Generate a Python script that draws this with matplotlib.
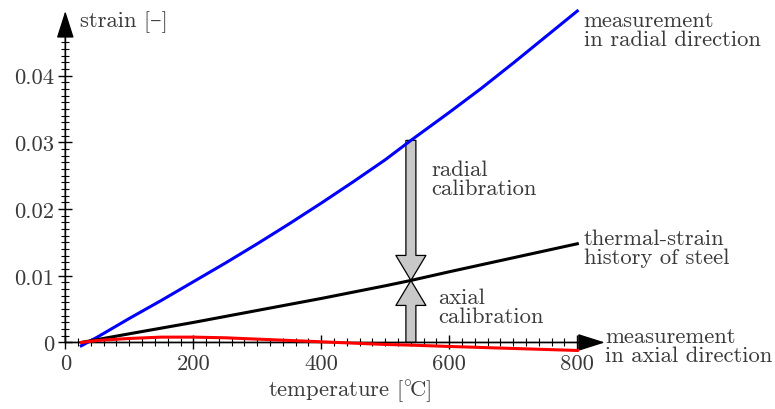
import matplotlib
matplotlib.use("Agg")
import matplotlib.pyplot as plt
import numpy as np
from matplotlib.patches import FancyArrowPatch
from matplotlib.ticker import FixedLocator, FuncFormatter

plt.rcParams["font.family"] = ["cmr10", "DejaVu Serif"]
plt.rcParams["mathtext.fontset"] = "cm"
plt.rcParams["axes.formatter.use_mathtext"] = True
plt.rcParams["axes.unicode_minus"] = False

TEXT_COLOR = "#3a3a3a"
FS = 16.3

# temperature [degC] and measured strains
temp_radial = [25, 50, 100, 150, 200, 250, 300, 350, 400, 450, 500, 540, 600, 650, 700, 750, 800]
strain_radial = [-0.0005, 0.0008, 0.0036, 0.0063, 0.0091, 0.0119, 0.0148, 0.0178, 0.0209,
                 0.0241, 0.0274, 0.0303, 0.0345, 0.0381, 0.0419, 0.0458, 0.0497]

temp_thermal = [25, 100, 200, 300, 400, 500, 540, 600, 700, 800]
strain_thermal = [0.0, 0.0013, 0.0030, 0.0048, 0.0066, 0.0085, 0.0093, 0.0106, 0.0127, 0.0148]

temp_axial = [25, 50, 100, 150, 200, 250, 300, 400, 500, 540, 600, 700, 800]
strain_axial = [0.0, 0.0003, 0.0006, 0.0008, 0.0008, 0.0007, 0.0005, 0.0001, -0.0003,
                -0.0004, -0.0006, -0.0009, -0.0012]

calib_temp = 540
x_ticks = [0, 200, 400, 600, 800]
y_ticks = [0, 0.01, 0.02, 0.03, 0.04]

x_min, x_max = -5, 845
y_min, y_max = -0.002, 0.0497

fig = plt.figure(figsize=(7.75, 4.10), dpi=100)
ax = fig.add_axes([62.1 / 775, (410 - 356.8) / 410, 544 / 775, 344.8 / 410])
ax.set_xlim(x_min, x_max)
ax.set_ylim(y_min, y_max)

# axes through the origin, drawn with arrow heads
for side in ("top", "right"):
    ax.spines[side].set_visible(False)
ax.spines["left"].set_position(("data", 0))
ax.spines["bottom"].set_position(("data", 0))
ax.spines["left"].set_bounds(0, 0.047)
ax.spines["bottom"].set_bounds(0, 820)
for side in ("left", "bottom"):
    ax.spines[side].set_linewidth(1.0)

arrow_axis = dict(arrowstyle="-|>,head_length=17,head_width=5.4", lw=1.0,
                  color="black", mutation_scale=1, shrinkA=0, shrinkB=0)
ax.annotate("", xy=(843, 0), xytext=(0, 0), arrowprops=arrow_axis, annotation_clip=False)
ax.annotate("", xy=(0, 0.0497), xytext=(0, 0), arrowprops=arrow_axis, annotation_clip=False)

ax.xaxis.set_major_locator(FixedLocator(x_ticks))
ax.xaxis.set_minor_locator(FixedLocator(np.arange(20, 830, 20)))
ax.yaxis.set_major_locator(FixedLocator(y_ticks))
ax.yaxis.set_minor_locator(FixedLocator(np.arange(0.001, 0.0475, 0.001)))
ax.xaxis.set_major_formatter(FuncFormatter(lambda v, p: f"{v:g}"))
ax.yaxis.set_major_formatter(FuncFormatter(lambda v, p: "0" if v == 0 else f"{v:.2f}"))
ax.tick_params(which="major", direction="inout", length=10, width=1.0,
               labelsize=FS, labelcolor=TEXT_COLOR)
ax.tick_params(which="minor", direction="inout", length=6, width=0.8)
ax.tick_params(axis="x", which="major", pad=3)
ax.tick_params(axis="y", which="major", pad=3)

# calibration arrows (grey, outlined)
radial_at = np.interp(calib_temp, temp_radial, strain_radial)
thermal_at = np.interp(calib_temp, temp_thermal, strain_thermal)
big_arrow = "simple,head_length=18,head_width=21.6,tail_width=7.2"
for start, end in ((radial_at, thermal_at), (0.0, thermal_at)):
    ax.add_patch(FancyArrowPatch((calib_temp, start), (calib_temp, end),
                                 arrowstyle=big_arrow, mutation_scale=1,
                                 shrinkA=0, shrinkB=0, fc="#c8c8c8", ec="black",
                                 lw=0.9, zorder=2))

ax.plot(temp_radial, strain_radial, color="#0000ff", lw=2.2, zorder=3, clip_on=False)
ax.plot(temp_thermal, strain_thermal, color="black", lw=2.2, zorder=3, clip_on=False)
ax.plot(temp_axial, strain_axial, color="#ff0000", lw=2.2, zorder=3, clip_on=False)

txt = dict(fontsize=FS, color=TEXT_COLOR, linespacing=0.95, clip_on=False)
ax.text(23, 0.0482, "strain [–]", ha="left", va="center", **txt)
ax.text(445, -0.0072, r"temperature [$^{\circ}\!$C]", ha="center", va="center", **txt)
ax.text(810, 0.04685, "measurement\nin radial direction", ha="left", va="center", **txt)
ax.text(810, 0.01424, "thermal-strain\nhistory of steel", ha="left", va="center", **txt)
ax.text(843, -0.00045, "measurement\nin axial direction", ha="left", va="center", **txt)
ax.text(572, 0.02451, "radial\ncalibration", ha="left", va="center", **txt)
ax.text(583, 0.0054, "axial\ncalibration", ha="left", va="center", **txt)

fig.savefig("out.png", dpi=100)
